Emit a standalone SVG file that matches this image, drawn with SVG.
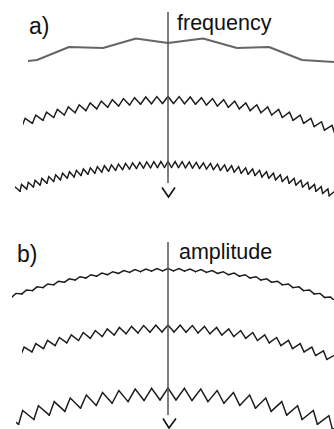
<svg xmlns="http://www.w3.org/2000/svg" xmlns:xlink="http://www.w3.org/1999/xlink" width="334" height="429" viewBox="0 0 334 429">
<style>
.lbl{font-family:"Liberation Sans",Arial,sans-serif;fill:#111}
.big{font-size:23px}
.word{font-size:21.5px}
.zz{fill:none;stroke:#1a1a1a;stroke-width:1.45;stroke-linecap:round;stroke-linejoin:miter}
.axis{stroke:#555;stroke-width:1.5;fill:none}
.arr{fill:none;stroke:#111;stroke-width:1.6}
.gray{fill:none;stroke:#666;stroke-width:2;stroke-linejoin:round}
</style>
<defs>
<clipPath id="cA2"><rect x="23" y="80" width="311" height="60"/></clipPath>
<clipPath id="cA3"><rect x="15" y="150" width="319" height="50"/></clipPath>
<clipPath id="cB1"><rect x="12" y="255" width="322" height="45"/></clipPath>
<clipPath id="cB2"><rect x="22" y="315" width="312" height="50"/></clipPath>
<clipPath id="cB3"><rect x="16" y="378" width="318" height="51"/></clipPath>

<polyline id="a2t" class="zz" points="-5.5,-472.5 0,-479.5 5.5,-472.5"/>
<g id="a2x2"><use href="#a2t"/><use href="#a2t" transform="rotate(1.3338)"/></g>
<g id="a2x4"><use href="#a2x2"/><use href="#a2x2" transform="rotate(2.6676)"/></g>
<g id="a2x8"><use href="#a2x4"/><use href="#a2x4" transform="rotate(5.3352)"/></g>
<g id="a2x16"><use href="#a2x8"/><use href="#a2x8" transform="rotate(10.6704)"/></g>
<g id="a2x32"><use href="#a2x16"/><use href="#a2x16" transform="rotate(21.3408)"/></g>

<polyline id="a3t" class="zz" points="-3.5,-473 0,-479 3.5,-473"/>
<g id="a3x2"><use href="#a3t"/><use href="#a3t" transform="rotate(0.8479)"/></g>
<g id="a3x4"><use href="#a3x2"/><use href="#a3x2" transform="rotate(1.6958)"/></g>
<g id="a3x8"><use href="#a3x4"/><use href="#a3x4" transform="rotate(3.3916)"/></g>
<g id="a3x16"><use href="#a3x8"/><use href="#a3x8" transform="rotate(6.7832)"/></g>
<g id="a3x32"><use href="#a3x16"/><use href="#a3x16" transform="rotate(13.5664)"/></g>
<g id="a3x48"><use href="#a3x32"/><use href="#a3x16" transform="rotate(27.1328)"/></g>

<polyline id="b1t" class="zz" points="-5.5,-474.8 0,-477.2 5.5,-474.8"/>
<g id="b1x2"><use href="#b1t"/><use href="#b1t" transform="rotate(1.3274)"/></g>
<g id="b1x4"><use href="#b1x2"/><use href="#b1x2" transform="rotate(2.6548)"/></g>
<g id="b1x8"><use href="#b1x4"/><use href="#b1x4" transform="rotate(5.3096)"/></g>
<g id="b1x16"><use href="#b1x8"/><use href="#b1x8" transform="rotate(10.6192)"/></g>
<g id="b1x32"><use href="#b1x16"/><use href="#b1x16" transform="rotate(21.2384)"/></g>

<polyline id="b2t" class="zz" points="-6,-472.5 0,-479.5 6,-472.5"/>
<g id="b2x2"><use href="#b2t"/><use href="#b2t" transform="rotate(1.455)"/></g>
<g id="b2x4"><use href="#b2x2"/><use href="#b2x2" transform="rotate(2.91)"/></g>
<g id="b2x8"><use href="#b2x4"/><use href="#b2x4" transform="rotate(5.82)"/></g>
<g id="b2x16"><use href="#b2x8"/><use href="#b2x8" transform="rotate(11.64)"/></g>
<g id="b2x32"><use href="#b2x16"/><use href="#b2x16" transform="rotate(23.28)"/></g>

<polyline id="b3t" class="zz" points="-8,-470 0,-482 8,-470"/>
<g id="b3x2"><use href="#b3t"/><use href="#b3t" transform="rotate(1.9503)"/></g>
<g id="b3x4"><use href="#b3x2"/><use href="#b3x2" transform="rotate(3.9006)"/></g>
<g id="b3x8"><use href="#b3x4"/><use href="#b3x4" transform="rotate(7.8012)"/></g>
<g id="b3x16"><use href="#b3x8"/><use href="#b3x8" transform="rotate(15.6024)"/></g>
<g id="b3x32"><use href="#b3x16"/><use href="#b3x16" transform="rotate(31.2048)"/></g>
</defs>

<rect width="334" height="429" fill="#fff"/>

<g id="panel-a">
  <text class="lbl big" x="29" y="34">a)</text>
  <text class="lbl word" x="177" y="30">frequency</text>
  <polyline id="wave-a1" class="gray" points="28,61 37,60 69,47 103,48 136,38.5 168,43 203,38.5 237,48 269,47 302,60 334,62"/>
  <g id="wave-a2" clip-path="url(#cA2)"><use href="#a2x32" transform="translate(168,576) rotate(-18.6732)"/></g>
  <g id="wave-a3" clip-path="url(#cA3)"><use href="#a3x48" transform="translate(168,640.5) rotate(-19.5017)"/></g>
  <line class="axis" x1="168" y1="12" x2="168" y2="183"/>
  <polyline class="arr" points="162,187.5 168.5,197 175,187.5"/>
</g>

<g id="panel-b">
  <text class="lbl big" x="17" y="262">b)</text>
  <text class="lbl word" x="179" y="259">amplitude</text>
  <g id="wave-b1" clip-path="url(#cB1)"><use href="#b1x32" transform="translate(168,745.7) rotate(-19.911)"/></g>
  <g id="wave-b2" clip-path="url(#cB2)"><use href="#b2x32" transform="translate(168,804.5) rotate(-20.37)"/></g>
  <g id="wave-b3" clip-path="url(#cB3)"><use href="#b3x32" transform="translate(168,870) rotate(-23.4036)"/></g>
  <line class="axis" x1="168" y1="242" x2="168" y2="415"/>
  <polyline class="arr" points="163,418.5 169,428 176,418.5"/>
</g>
</svg>
